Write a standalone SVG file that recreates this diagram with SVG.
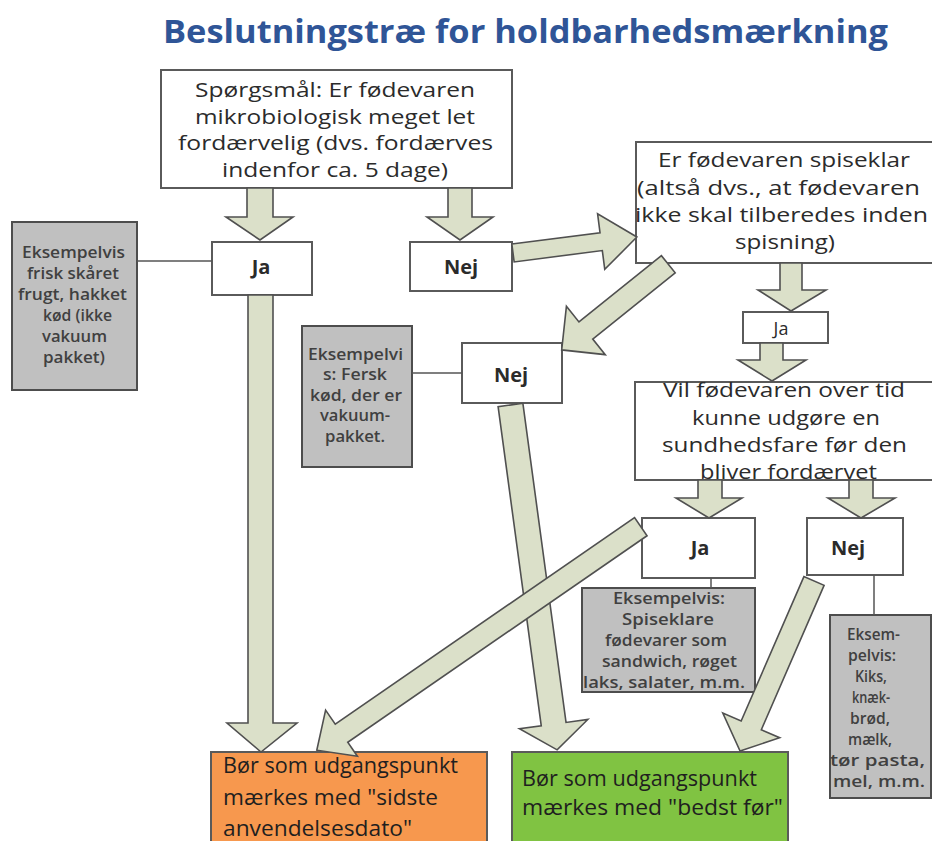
<svg xmlns="http://www.w3.org/2000/svg" width="932" height="841" viewBox="0 0 932 841">
<style>
.box{fill:#fff;stroke:#5a5a5a;stroke-width:2}
.gbox{fill:#c0c0c0;stroke:#4d4d4d;stroke-width:2}
.obox{fill:#f7984e;stroke:#5a5a5a;stroke-width:2}
.grbox{fill:#80c342;stroke:#5a5a5a;stroke-width:2}
.arrow{fill:#dbe0c9;stroke:#505050;stroke-width:1.6;stroke-linejoin:miter}
.ln{stroke:#555;stroke-width:1.5;fill:none}
text{font-family:"Open Sans","Liberation Sans",sans-serif}
.t{font-size:20px;fill:#2b2b2b}
.g{font-size:15.5px;font-weight:600;fill:#404040}
.yn{font-size:20px;font-weight:bold;fill:#2b2b2b;text-anchor:middle}
.o{font-size:21px;fill:#1f1f1f}
.title{font-size:33px;font-weight:bold;fill:#2f5597}
</style>

<text class="title" x="163" y="43" textLength="725" lengthAdjust="spacingAndGlyphs">Beslutningstræ for holdbarhedsmærkning</text>

<g id="nodes">
<g id="q1">
<rect class="box" x="161" y="70" width="351" height="118"/>
<text class="t" x="195" y="97" textLength="280" lengthAdjust="spacingAndGlyphs">Spørgsmål: Er fødevaren</text>
<text class="t" x="195" y="124" textLength="280" lengthAdjust="spacingAndGlyphs">mikrobiologisk meget let</text>
<text class="t" x="178" y="150" textLength="315" lengthAdjust="spacingAndGlyphs">fordærvelig (dvs. fordærves</text>
<text class="t" x="222" y="177" textLength="226" lengthAdjust="spacingAndGlyphs">indenfor ca. 5 dage)</text>
</g>
<g id="ja1">
<rect class="box" x="212" y="242" width="100" height="53"/>
<text class="yn" x="261" y="274">Ja</text>
</g>
<g id="nej1">
<rect class="box" x="410" y="242" width="102" height="49"/>
<text class="yn" x="461" y="274">Nej</text>
</g>
<g id="ex1">
<rect class="gbox" x="12" y="222" width="125" height="168"/>
<text class="g" x="22" y="258" textLength="103" lengthAdjust="spacingAndGlyphs">Eksempelvis</text>
<text class="g" x="27" y="279" textLength="92" lengthAdjust="spacingAndGlyphs">frisk skåret</text>
<text class="g" x="18" y="300" textLength="109" lengthAdjust="spacingAndGlyphs">frugt, hakket</text>
<text class="g" x="43" y="321" textLength="69" lengthAdjust="spacingAndGlyphs">kød (ikke</text>
<text class="g" x="42" y="342" textLength="65" lengthAdjust="spacingAndGlyphs">vakuum</text>
<text class="g" x="43" y="363" textLength="62" lengthAdjust="spacingAndGlyphs">pakket)</text>
</g>
<g id="q2">
<rect class="box" x="636" y="142" width="300" height="121"/>
<text class="t" x="658" y="167" textLength="252" lengthAdjust="spacingAndGlyphs">Er fødevaren spiseklar</text>
<text class="t" x="637" y="195" textLength="283" lengthAdjust="spacingAndGlyphs">(altså dvs., at fødevaren</text>
<text class="t" x="635" y="222" textLength="293" lengthAdjust="spacingAndGlyphs">ikke skal tilberedes inden</text>
<text class="t" x="735" y="249" textLength="100" lengthAdjust="spacingAndGlyphs">spisning)</text>
</g>
<g id="nej2">
<rect class="box" x="462" y="343" width="100" height="60"/>
<text class="yn" x="511" y="382">Nej</text>
</g>
<g id="ex2">
<rect class="gbox" x="302" y="326" width="110" height="141"/>
<text class="g" x="308" y="360" textLength="95" lengthAdjust="spacingAndGlyphs">Eksempelvi</text>
<text class="g" x="323" y="380" textLength="64" lengthAdjust="spacingAndGlyphs">s: Fersk</text>
<text class="g" x="310" y="401" textLength="92" lengthAdjust="spacingAndGlyphs">kød, der er</text>
<text class="g" x="320" y="421" textLength="70" lengthAdjust="spacingAndGlyphs">vakuum-</text>
<text class="g" x="325" y="442" textLength="60" lengthAdjust="spacingAndGlyphs">pakket.</text>
</g>
<g id="ja2">
<rect class="box" x="743" y="312" width="85" height="31"/>
<text class="yn" x="781" y="335" style="font-weight:normal;font-size:18px">Ja</text>
</g>
<g id="q3">
<rect class="box" x="635" y="382" width="300" height="98"/>
<text class="t" x="663" y="397" textLength="242" lengthAdjust="spacingAndGlyphs">Vil fødevaren over tid</text>
<text class="t" x="692" y="425" textLength="188" lengthAdjust="spacingAndGlyphs">kunne udgøre en</text>
<text class="t" x="662" y="452" textLength="245" lengthAdjust="spacingAndGlyphs">sundhedsfare før den</text>
<text class="t" x="700" y="479" textLength="177" lengthAdjust="spacingAndGlyphs">bliver fordærvet</text>
</g>
<g id="ja3">
<rect class="box" x="642" y="518" width="113" height="60"/>
<text class="yn" x="700" y="555">Ja</text>
</g>
<g id="nej3">
<rect class="box" x="807" y="518" width="96" height="57"/>
<text class="yn" x="848" y="555">Nej</text>
</g>
<g id="ex3">
<rect class="gbox" x="582" y="588" width="173" height="104"/>
<text class="g" x="613" y="604" textLength="112" lengthAdjust="spacingAndGlyphs">Eksempelvis:</text>
<text class="g" x="622" y="625" textLength="92" lengthAdjust="spacingAndGlyphs">Spiseklare</text>
<text class="g" x="605" y="646" textLength="122" lengthAdjust="spacingAndGlyphs">fødevarer som</text>
<text class="g" x="602" y="667" textLength="135" lengthAdjust="spacingAndGlyphs">sandwich, røget</text>
<text class="g" x="583" y="688" textLength="162" lengthAdjust="spacingAndGlyphs">laks, salater, m.m.</text>
</g>
<g id="ex4">
<rect class="gbox" x="830" y="615" width="101" height="183"/>
<text class="g" x="847" y="640" textLength="53" lengthAdjust="spacingAndGlyphs">Eksem-</text>
<text class="g" x="848" y="661" textLength="48" lengthAdjust="spacingAndGlyphs">pelvis:</text>
<text class="g" x="855" y="682" textLength="32" lengthAdjust="spacingAndGlyphs">Kiks,</text>
<text class="g" x="852" y="703" textLength="38" lengthAdjust="spacingAndGlyphs">knæk-</text>
<text class="g" x="850" y="724" textLength="40" lengthAdjust="spacingAndGlyphs">brød,</text>
<text class="g" x="848" y="745" textLength="44" lengthAdjust="spacingAndGlyphs">mælk,</text>
<text class="g" x="830" y="766" textLength="95" lengthAdjust="spacingAndGlyphs">tør pasta,</text>
<text class="g" x="833" y="787" textLength="92" lengthAdjust="spacingAndGlyphs">mel, m.m.</text>
</g>
<g id="res1">
<rect class="obox" x="211" y="752" width="276" height="100"/>
<text class="o" x="223" y="773" textLength="235" lengthAdjust="spacingAndGlyphs">Bør som udgangspunkt</text>
<text class="o" x="223" y="805" textLength="215" lengthAdjust="spacingAndGlyphs">mærkes med "sidste</text>
<text class="o" x="223" y="836" textLength="189" lengthAdjust="spacingAndGlyphs">anvendelsesdato"</text>
</g>
<g id="res2">
<rect class="grbox" x="512" y="752" width="276" height="100"/>
<text class="o" x="522" y="786" textLength="235" lengthAdjust="spacingAndGlyphs">Bør som udgangspunkt</text>
<text class="o" x="522" y="815" textLength="261" lengthAdjust="spacingAndGlyphs">mærkes med "bedst før"</text>
</g>
</g>

<g id="connectors">
<line class="ln" x1="137" y1="261" x2="212" y2="261"/>
<line class="ln" x1="412" y1="373" x2="462" y2="373"/>
<line class="ln" x1="711" y1="578" x2="711" y2="588"/>
<line class="ln" x1="874" y1="575" x2="874" y2="615"/>
<polygon class="arrow" points="247,188 273,188 273,217 293,217 260,240 226,217 247,217"/>
<polygon class="arrow" points="448,188 472,188 472,217 493,217 460,240 427,217 448,217"/>
<polygon class="arrow" points="248,295 273,295 273,723 297,723 261,752 227,723 248,723"/>
<polygon class="arrow" transform="translate(513,253) rotate(-7.35)" points="0,-9 88.9,-9 88.9,-28 124.9,0 88.9,28 88.9,9 0,9"/>
<polygon class="arrow" transform="translate(668.3,264.2) rotate(141.2)" points="0,-11 105.8,-11 105.8,-31 136.8,0 105.8,31 105.8,11 0,11"/>
<polygon class="arrow" transform="translate(510.5,405) rotate(82.3)" points="0,-12.5 322,-12.5 322,-34.5 348,0 322,34.5 322,12.5 0,12.5"/>
<polygon class="arrow" points="780,263 802,263 802,290 826,290 791,311 758,290 780,290"/>
<polygon class="arrow" points="760,343 783,343 783,360 806,360 772,381 738,360 760,360"/>
<polygon class="arrow" points="698,480 722,480 722,498 742,498 709,518 676,498 698,498"/>
<polygon class="arrow" points="849,480 873,480 873,498 895,498 861,518 828,498 849,498"/>
<polygon class="arrow" transform="translate(640.8,526.7) rotate(145.4)" points="0,-11 363.6,-11 363.6,-28 393.6,0 363.6,28 363.6,11 0,11"/>
<polygon class="arrow" transform="translate(814,581) rotate(113.5)" points="0,-11 157.4,-11 157.4,-31 185.4,0 157.4,31 157.4,11 0,11"/>
</g>
</svg>
